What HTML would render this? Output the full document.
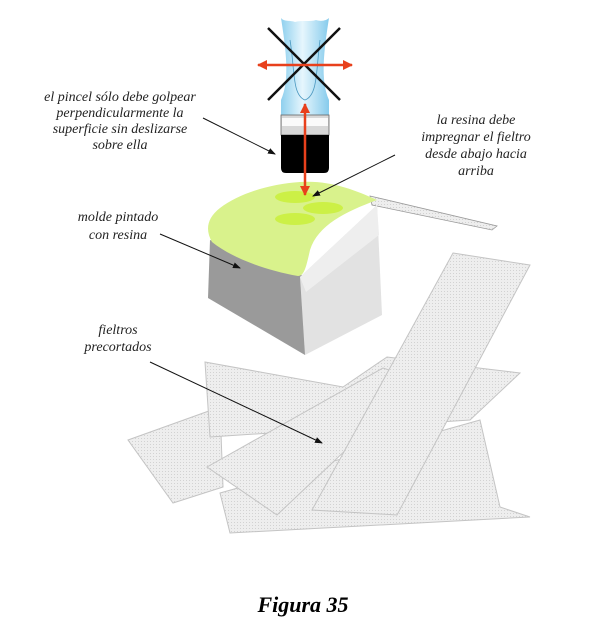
<!DOCTYPE html>
<html><head><meta charset="utf-8"><style>
html,body{margin:0;padding:0;background:#fff;}
svg{display:block;}
text{font-family:"Liberation Serif",serif;font-style:italic;font-size:14px;fill:#222;}
</style></head><body>
<svg width="605" height="635" viewBox="0 0 605 635" xmlns="http://www.w3.org/2000/svg">
<defs>
<pattern id="felt" width="3" height="3" patternUnits="userSpaceOnUse">
<rect width="3" height="3" fill="#eeeeee"/><rect width="1" height="1" fill="#d2d2d2"/>
</pattern>
<linearGradient id="blue" x1="0" x2="1">
<stop offset="0" stop-color="#8fd0ee"/><stop offset="0.45" stop-color="#e6f6fd"/><stop offset="1" stop-color="#86cbec"/>
</linearGradient>
<marker id="ah" markerWidth="8" markerHeight="8" refX="7" refY="4" orient="auto" markerUnits="userSpaceOnUse">
<path d="M0,1 L8,4 L0,7 Z" fill="#111"/></marker>
<marker id="rh" markerWidth="10" markerHeight="10" refX="9" refY="5" orient="auto" markerUnits="userSpaceOnUse">
<path d="M0,0 L10,5 L0,10 Z" fill="#e8401c"/></marker>
</defs>

<!-- felts -->
<g stroke="#c4c4c4" stroke-width="1" fill="url(#felt)">
<polygon points="128,440 220,407 223,487 173,503"/>
<polygon points="205,362 343,387 387,357 520,373 470,420 210,437"/>
<polygon points="220,493 480,420 500,507 530,517 230,533"/>
<polygon points="207,467 383,368 420,380 277,515"/>
<polygon points="453,253 530,265 397,515 312,510"/>
</g>

<!-- sliver -->
<polygon points="370,196 497,226 492,230 372,205" fill="url(#felt)" stroke="#999" stroke-width="0.8"/>

<!-- mold -->
<polygon points="210,240 307,277 305,355 208,298" fill="#9a9a9a"/>
<polygon points="300,277 377,205 382,315 305,355" fill="#e2e2e2"/>
<polygon points="300,277 377,205 379,235 306,292" fill="#eeeeee"/>
<!-- resin -->
<path d="M300,182 C330,180 355,190 377,200 C345,212 318,225 310,250 C306,268 304,276 298,276 C265,270 232,258 212,242 C205,230 207,218 220,208 C240,193 270,184 300,182 Z" fill="#d9f28c"/>
<ellipse cx="295" cy="197" rx="20" ry="6" fill="#ccf046"/>
<ellipse cx="323" cy="208" rx="20" ry="6" fill="#ccf046"/>
<ellipse cx="295" cy="219" rx="20" ry="6" fill="#ccf046"/>

<!-- brush -->
<path d="M281,18 C284,22 290,20 295,22 C302,20 310,22 316,20 C322,22 327,20 329,18 C324,50 320,80 329,100 L329,118 L281,118 L281,100 C290,80 286,50 281,18 Z" fill="url(#blue)"/>
<path d="M290,40 C295,70 292,95 305,100 C318,95 316,70 320,40" fill="none" stroke="#4a98c0" stroke-width="0.8"/>
<rect x="281" y="115" width="48" height="20" fill="#d8d8d8" stroke="#666" stroke-width="0.8"/>
<rect x="282" y="118" width="46" height="8" fill="#fafafa"/>
<path d="M281,135 L329,135 L329,168 Q329,173 324,173 L286,173 Q281,173 281,168 Z" fill="#000"/>
<line x1="268" y1="28" x2="340" y2="100" stroke="#111" stroke-width="2.5"/>
<line x1="340" y1="28" x2="268" y2="100" stroke="#111" stroke-width="2.5"/>
<line x1="305" y1="65" x2="352" y2="65" stroke="#e8401c" stroke-width="2.5" marker-end="url(#rh)"/>
<line x1="305" y1="65" x2="258" y2="65" stroke="#e8401c" stroke-width="2.5" marker-end="url(#rh)"/>
<line x1="305" y1="150" x2="305" y2="104" stroke="#e8401c" stroke-width="2.5" marker-end="url(#rh)"/>
<line x1="305" y1="150" x2="305" y2="195" stroke="#e8401c" stroke-width="2.5" marker-end="url(#rh)"/>

<!-- pointers -->
<g stroke="#111" stroke-width="1" fill="none">
<line x1="203" y1="118" x2="275" y2="154" marker-end="url(#ah)"/>
<line x1="395" y1="155" x2="313" y2="196" marker-end="url(#ah)"/>
<line x1="160" y1="234" x2="240" y2="268" marker-end="url(#ah)"/>
<line x1="150" y1="362" x2="322" y2="443" marker-end="url(#ah)"/>
</g>

<g text-anchor="middle">
<text x="120" y="101">el pincel sólo debe golpear</text>
<text x="120" y="117">perpendicularmente la</text>
<text x="120" y="133">superficie sin deslizarse</text>
<text x="120" y="149">sobre ella</text>
<text x="476" y="124">la resina debe</text>
<text x="476" y="141">impregnar el fieltro</text>
<text x="476" y="158">desde abajo hacia</text>
<text x="476" y="175">arriba</text>
<text x="118" y="221">molde pintado</text>
<text x="118" y="239">con resina</text>
<text x="118" y="334">fieltros</text>
<text x="118" y="351">precortados</text>
<text x="303" y="612" style="font-size:22px;font-weight:bold;fill:#000">Figura  35</text>
</g>
</svg>
</body></html>
